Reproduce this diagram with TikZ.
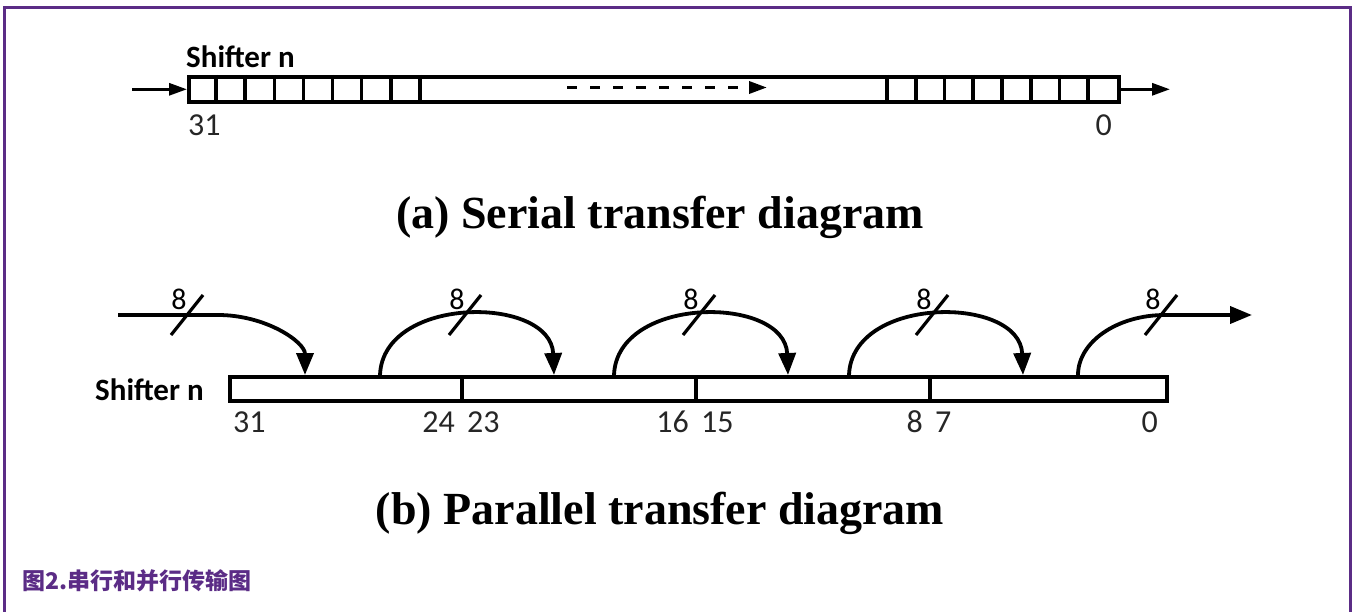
\documentclass[tikz,border=0pt]{standalone}
\usepackage{fontspec}
\usepackage{tikz}
\usetikzlibrary{arrows.meta}
\newfontfamily\calfont{Carlito}
\newfontfamily\titlefont{Liberation Serif}
\newfontfamily\cjkfont{Noto Sans CJK SC}
\definecolor{framepurple}{HTML}{5B2C86}
\definecolor{labelgray}{HTML}{262626}

\begin{document}
\begin{tikzpicture}[x=1pt,y=-1pt,
  reg/.style={draw, line width=3.6, inner sep=0, anchor=north west},
  cell/.style={line width=3.6},
  bitnum/.style={text=labelgray, font=\calfont\fontsize{32}{32}\selectfont, inner sep=0},
  shiftname/.style={font=\calfont\bfseries\fontsize{31}{31}\selectfont, inner sep=0, anchor=west},
  title/.style={font=\titlefont\bfseries\fontsize{46}{46}\selectfont, inner sep=0},
  sarrow/.style={line width=3, -{Triangle[length=18,width=12]}},
  parrow/.style={line width=3.8, -{Triangle[length=22,width=17]}},
  buswidth/.style={font=\calfont\fontsize{30}{30}\selectfont, inner sep=0}]
  \useasboundingbox (0,0) rectangle (1352,612);
  \draw[framepurple, line width=3] (4.5,612) -- (4.5,7.5) -- (1350,7.5) -- (1350,612);

  % serial
  \node[reg, minimum width=930, minimum height=25] (sreg) at (187,75) {};
  \foreach \i in {1,...,8}
    \draw[cell] ({187+29.1*\i},75) -- ++(0,25);
  \foreach \i in {0,...,7}
    \draw[cell] ({887+28.75*\i},75) -- ++(0,25);
  \node[shiftname] (sname) at (186,57) {Shifter n};
  \node[bitnum, anchor=west] (s31) at (188,125) {31};
  \node[bitnum, anchor=east] (s0) at (1112,125) {0};
  \coordinate (sIn) at (132,87.5);
  \coordinate (sOut) at (1170,87.5);
  \coordinate (dA) at (567,87.5);
  \coordinate (dB) at (767,87.5);
  \draw[sarrow] (sIn |- sreg.west) -- (sreg.west);
  \draw[sarrow] (sreg.east) -- (sOut |- sreg.east);
  \draw[sarrow, line width=3.4, dash pattern=on 10pt off 13pt] (dA) -- (dB);
  \node[title] (tA) at (660,217) {(a) Serial transfer diagram};

  % parallel
  \node[reg, minimum width=937, minimum height=24] (preg) at (228,375) {};
  \foreach \x in {462,696,930}
    \draw[cell] (\x,375) -- ++(0,24);
  \node[shiftname] (pname) at (95,390) {Shifter n};
  \node[bitnum, anchor=west] (b31) at (233,422) {31};
  \foreach \x/\l/\r in {462/24/23,696/16/15,930/8/7}{
    \node[bitnum, anchor=east] (b\l) at (\x-7,422) {\l};
    \node[bitnum, anchor=west] (b\r) at (\x+5,422) {\r};
  }
  \node[bitnum, anchor=east] (b0) at (1158,422) {0};

  \coordinate (pIn) at (118,315);
  \coordinate (v0) at (305,375);
  \draw[parrow] (pIn) -- ++(100,0) .. controls +(48,0) and +(0,-33) .. (v0);
  \foreach \s [count=\i] in {380,614,849}{
    \coordinate (u\i) at (\s,375);
    \coordinate (v\i) at (\s+174,375);
    \draw[parrow] (u\i) .. controls +(3,-80) and +(-3,-80) .. (v\i);
  }
  \coordinate (u4) at (1078,375);
  \coordinate (pOut) at (1252,315);
  \draw[parrow] (u4) .. controls +(0,-33) and +(-48,0) .. (1165,315) -- (pOut);
  \foreach \c [count=\i] in {187,465,699,932,1161}{
    \draw[line width=3.2] (\c-16,335) -- (\c+16,295);
    \node[buswidth] (w\i) at (\c-8,299) {8};
  }
  \node[title] (tB) at (660,513) {(b) Parallel transfer diagram};

  \node[font=\cjkfont\bfseries\fontsize{23}{23}\selectfont, text=framepurple,
    anchor=west, inner sep=0] (cap) at (22,581) {图2.串行和并行传输图};
\end{tikzpicture}
\end{document}
